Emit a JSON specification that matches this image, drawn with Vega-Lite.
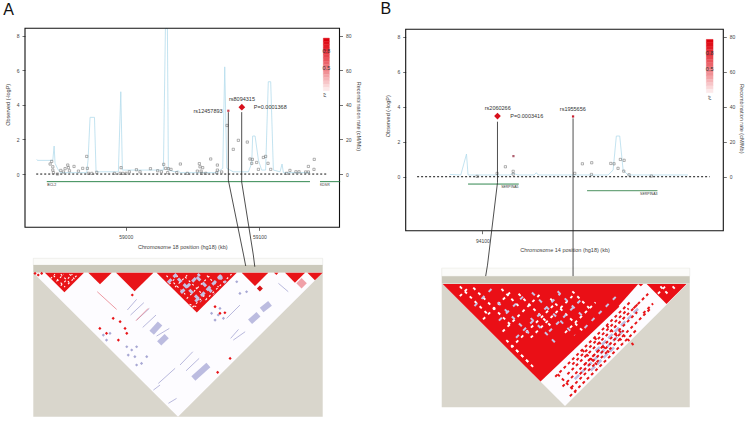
{"$schema":"https://vega.github.io/schema/vega-lite/v6.json","width":750,"height":422,"padding":0,"autosize":{"type":"none"},"background":"white",
"config":{"view":{"stroke":null},"axis":{"grid":false,"domain":false,"tickSize":3,"tickWidth":0.7,"tickColor":"#333","labelFont":"Liberation Sans","labelFontSize":5,"labelColor":"#444","labelPadding":3,"titleFont":"Liberation Sans","titleFontSize":5.5,"titleColor":"#444","titleFontWeight":"normal","titleBaseline":"middle"},"text":{"font":"Liberation Sans","fontSize":5.5,"color":"#333"}},
"datasets":{
"legendA":[{"kb":59147.9,"kb2":59152.4,"logP":7.86,"logP2":7.67,"r2":1},{"kb":59147.9,"kb2":59152.4,"logP":7.67,"logP2":7.48,"r2":0.95},{"kb":59147.9,"kb2":59152.4,"logP":7.48,"logP2":7.29,"r2":0.9},{"kb":59147.9,"kb2":59152.4,"logP":7.29,"logP2":7.1,"r2":0.85},{"kb":59147.9,"kb2":59152.4,"logP":7.1,"logP2":6.91,"r2":0.8},{"kb":59147.9,"kb2":59152.4,"logP":6.91,"logP2":6.72,"r2":0.74},{"kb":59147.9,"kb2":59152.4,"logP":6.72,"logP2":6.53,"r2":0.68},{"kb":59147.9,"kb2":59152.4,"logP":6.53,"logP2":6.34,"r2":0.62},{"kb":59147.9,"kb2":59152.4,"logP":6.34,"logP2":6.15,"r2":0.56},{"kb":59147.9,"kb2":59152.4,"logP":6.15,"logP2":5.96,"r2":0.5},{"kb":59147.9,"kb2":59152.4,"logP":5.96,"logP2":5.77,"r2":0.44},{"kb":59147.9,"kb2":59152.4,"logP":5.77,"logP2":5.58,"r2":0.37},{"kb":59147.9,"kb2":59152.4,"logP":5.58,"logP2":5.39,"r2":0.3},{"kb":59147.9,"kb2":59152.4,"logP":5.39,"logP2":5.2,"r2":0.23},{"kb":59147.9,"kb2":59152.4,"logP":5.2,"logP2":5.01,"r2":0.16},{"kb":59147.9,"kb2":59152.4,"logP":5.01,"logP2":4.82,"r2":0.09}],
"legendB":[{"kb":94272.7,"kb2":94277.9,"logP":7.86,"logP2":7.67,"r2":1},{"kb":94272.7,"kb2":94277.9,"logP":7.67,"logP2":7.48,"r2":0.95},{"kb":94272.7,"kb2":94277.9,"logP":7.48,"logP2":7.29,"r2":0.9},{"kb":94272.7,"kb2":94277.9,"logP":7.29,"logP2":7.1,"r2":0.85},{"kb":94272.7,"kb2":94277.9,"logP":7.1,"logP2":6.91,"r2":0.8},{"kb":94272.7,"kb2":94277.9,"logP":6.91,"logP2":6.72,"r2":0.74},{"kb":94272.7,"kb2":94277.9,"logP":6.72,"logP2":6.53,"r2":0.68},{"kb":94272.7,"kb2":94277.9,"logP":6.53,"logP2":6.34,"r2":0.62},{"kb":94272.7,"kb2":94277.9,"logP":6.34,"logP2":6.15,"r2":0.56},{"kb":94272.7,"kb2":94277.9,"logP":6.15,"logP2":5.96,"r2":0.5},{"kb":94272.7,"kb2":94277.9,"logP":5.96,"logP2":5.77,"r2":0.44},{"kb":94272.7,"kb2":94277.9,"logP":5.77,"logP2":5.58,"r2":0.37},{"kb":94272.7,"kb2":94277.9,"logP":5.58,"logP2":5.39,"r2":0.3},{"kb":94272.7,"kb2":94277.9,"logP":5.39,"logP2":5.2,"r2":0.23},{"kb":94272.7,"kb2":94277.9,"logP":5.2,"logP2":5.01,"r2":0.16},{"kb":94272.7,"kb2":94277.9,"logP":5.01,"logP2":4.81,"r2":0.09}]
},
"layer":[
{"encoding":{"x":{"field":"m","type":"quantitative","axis":null,"scale":{"domain":[0,100],"range":[33.3,322.7],"nice":false,"zero":false}},"y":{"field":"d","type":"quantitative","axis":null,"scale":{"domain":[0,100],"range":[272.7,416.7],"nice":false,"zero":false}}},
"layer":[
{"data":{"values":[{"m":0,"m2":100,"d":0,"d2":100}]},"mark":{"type":"rect","fill":"#d9d6cc"},"encoding":{"x2":{"field":"m2"},"y2":{"field":"d2"}}},
{"data":{"values":[{"m":0,"m2":100,"d":-10,"d2":-5.3}]},"mark":{"type":"rect","fill":"#fbfbf9","stroke":"#e2e2dc","strokeWidth":0.5},"encoding":{"x2":{"field":"m2"},"y2":{"field":"d2"}}},
{"data":{"values":[{"m":0,"m2":100,"d":-5.3,"d2":0}]},"mark":{"type":"rect","fill":"#cbc9bb"},"encoding":{"x2":{"field":"m2"},"y2":{"field":"d2"}}},
{"data":{"values":[{"m":0,"d":0,"t":0},{"m":50,"d":100,"t":0},{"m":100,"d":0,"t":0}]},"mark":{"type":"area","color":"#fdfcff"},"encoding":{"y2":{"field":"t"}}},
{"data":{"values":[{"b":"1","m":4,"d":0,"t":0},{"b":"1","m":10.75,"d":13.5,"t":0},{"b":"1","m":17.5,"d":0,"t":0},{"b":"2","m":19,"d":0,"t":0},{"b":"2","m":23.05,"d":8.1,"t":0},{"b":"2","m":27.1,"d":0,"t":0},{"b":"3","m":28.6,"d":0,"t":0},{"b":"3","m":35,"d":12.9,"t":0},{"b":"3","m":41.5,"d":0,"t":0},{"b":"4","m":42.6,"d":0,"t":0},{"b":"4","m":56.5,"d":27.7,"t":0},{"b":"4","m":70.3,"d":0,"t":0},{"b":"5","m":72,"d":0,"t":0},{"b":"5","m":76.6,"d":9.2,"t":0},{"b":"5","m":81.2,"d":0,"t":0},{"b":"6","m":83.2,"d":0,"t":0},{"b":"6","m":84,"d":1.6,"t":0},{"b":"6","m":84.7,"d":0,"t":0},{"b":"7","m":87,"d":0,"t":0},{"b":"7","m":90.4,"d":6.9,"t":0},{"b":"7","m":93.9,"d":0,"t":0},{"b":"8","m":94.7,"d":0,"t":0},{"b":"8","m":97.3,"d":5.3,"t":0},{"b":"8","m":100,"d":0,"t":0}]},"mark":{"type":"area","color":"#e81418"},"encoding":{"y2":{"field":"t"},"detail":{"field":"b"}}},
{"data":{"values":[{"s":"1","m":7,"d":2},{"s":"1","m":11,"d":10},{"s":"2","m":9.5,"d":1},{"s":"2","m":13,"d":8},{"s":"3","m":12.5,"d":1},{"s":"3","m":14.5,"d":5},{"s":"4","m":6,"d":4},{"s":"4","m":7.5,"d":1},{"s":"5","m":8,"d":6},{"s":"5","m":10.5,"d":1},{"s":"6","m":9.5,"d":9},{"s":"6","m":13.5,"d":1},{"s":"7","m":12,"d":8},{"s":"7","m":15.5,"d":1},{"s":"8","m":46,"d":2},{"s":"8","m":52.5,"d":15},{"s":"9","m":52.5,"d":3},{"s":"9","m":60,"d":18},{"s":"10","m":60,"d":2},{"s":"10","m":64,"d":10},{"s":"11","m":49,"d":10},{"s":"11","m":53.5,"d":1},{"s":"12","m":53,"d":18},{"s":"12","m":61.5,"d":1},{"s":"13","m":59.5,"d":19},{"s":"13","m":68.5,"d":1},{"s":"14","m":47,"d":8},{"s":"14","m":50.5,"d":1},{"s":"15","m":55,"d":24},{"s":"15","m":59,"d":16},{"s":"16","m":54,"d":22},{"s":"16","m":57,"d":24}]},"mark":{"type":"line","stroke":"#ffffff","strokeWidth":1.1,"strokeDash":[2,3]},"encoding":{"detail":{"field":"s"}}},
{"data":{"values":[{"s":"1","m":50,"d":4},{"s":"1","m":58,"d":20},{"s":"2","m":56.5,"d":3},{"s":"2","m":62.5,"d":15},{"s":"3","m":64,"d":2},{"s":"3","m":66.5,"d":7},{"s":"4","m":46.5,"d":7},{"s":"4","m":49.5,"d":1},{"s":"5","m":51,"d":14},{"s":"5","m":57.5,"d":1},{"s":"6","m":56,"d":20},{"s":"6","m":65.5,"d":1}]},"mark":{"type":"line","stroke":"#c4c2e4","strokeWidth":3,"strokeDash":[5,3]},"encoding":{"detail":{"field":"s"}}},
{"data":{"values":[{"s":"1","m":32.5,"d":25.9},{"s":"1","m":35.7,"d":18.5},{"s":"2","m":33.6,"d":29.4},{"s":"2","m":38.2,"d":20.8},{"s":"3","m":35.7,"d":32.9},{"s":"3","m":40.1,"d":24.8},{"s":"4","m":37.8,"d":38},{"s":"4","m":42.4,"d":29.4},{"s":"5","m":42.6,"d":44},{"s":"5","m":47,"d":38.7},{"s":"6","m":68.2,"d":45.6},{"s":"6","m":70.9,"d":39.4},{"s":"7","m":69.1,"d":46.8},{"s":"7","m":73.2,"d":41},{"s":"8","m":50.7,"d":64.1},{"s":"8","m":55.1,"d":54.9},{"s":"9","m":52.8,"d":68.1},{"s":"9","m":57.3,"d":59.5},{"s":"10","m":43.2,"d":76.9},{"s":"10","m":49,"d":66.4},{"s":"11","m":46.7,"d":90.7},{"s":"11","m":49.5,"d":87.3},{"s":"12","m":41.5,"d":81.5},{"s":"12","m":43.8,"d":78},{"s":"13","m":66.8,"d":31.7},{"s":"13","m":71.4,"d":22.5},{"s":"14","m":84.7,"d":7.4},{"s":"14","m":88.1,"d":13.2}]},"mark":{"type":"line","stroke":"#b9b9dd","strokeWidth":1},"encoding":{"detail":{"field":"s"}}},
{"data":{"values":[{"s":"1","m":40.9,"d":41.7},{"s":"1","m":43.8,"d":35.2},{"s":"2","m":55.3,"d":73.4},{"s":"2","m":60.5,"d":64.1},{"s":"3","m":74.9,"d":34},{"s":"3","m":77.8,"d":28.9},{"s":"4","m":78.9,"d":25.9},{"s":"4","m":81.8,"d":21.3},{"s":"5","m":43.5,"d":49.1},{"s":"5","m":46.1,"d":44}]},"mark":{"type":"line","stroke":"#bcbce0","strokeWidth":6},"encoding":{"detail":{"field":"s"}}},
{"data":{"values":[{"s":"1","m":22.1,"d":13.2},{"s":"1","m":28.8,"d":25.5},{"s":"2","m":35.5,"d":33.3},{"s":"2","m":39.7,"d":24.8}]},"mark":{"type":"line","stroke":"#e8808c","strokeWidth":0.8},"encoding":{"detail":{"field":"s"}}},
{"data":{"values":[{"m":32.3,"d":51.4},{"m":34,"d":53.7},{"m":35.7,"d":51.4},{"m":32.8,"d":57.2},{"m":35.1,"d":58.3},{"m":35.7,"d":64.1},{"m":37.4,"d":63},{"m":39.2,"d":58.3},{"m":61.6,"d":28.2},{"m":63.9,"d":29.4},{"m":65.7,"d":31.7},{"m":62.8,"d":32.9},{"m":64.5,"d":24.8},{"m":73.7,"d":13.2},{"m":71.4,"d":14.4},{"m":70.3,"d":6.3},{"m":24.2,"d":43.3},{"m":26.5,"d":42.1},{"m":25.3,"d":46.8}]},"mark":{"type":"point","shape":"diamond","filled":true,"color":"#a8a8d4","opacity":1,"size":10,"strokeWidth":0}},
{"data":{"values":[{"m":92.7,"d":7.4}]},"mark":{"type":"point","shape":"diamond","filled":true,"color":"#f0a0a8","opacity":1,"size":110,"strokeWidth":0}},
{"data":{"values":[{"m":78.3,"d":10.9}]},"mark":{"type":"point","shape":"diamond","filled":true,"color":"#d81418","opacity":1,"size":36,"strokeWidth":0}},
{"data":{"values":[{"m":34.2,"d":15.5},{"m":68,"d":59.5},{"m":63.7,"d":69.2},{"m":66.2,"d":27.8},{"m":27.6,"d":31.7},{"m":30,"d":34},{"m":31.7,"d":38.7},{"m":23,"d":38.7},{"m":25.3,"d":42.1},{"m":29.4,"d":46.8},{"m":32.3,"d":42.1},{"m":62.8,"d":23.6},{"m":64.5,"d":28.2},{"m":0.6,"d":0.5},{"m":1.7,"d":1.6},{"m":2.9,"d":0.5}]},"mark":{"type":"point","shape":"diamond","filled":true,"color":"#e81418","opacity":1,"size":10,"strokeWidth":0}}
]},
{"encoding":{"x":{"field":"m","type":"quantitative","axis":null,"scale":{"domain":[0,100],"range":[442.7,687.3],"nice":false,"zero":false}},"y":{"field":"d","type":"quantitative","axis":null,"scale":{"domain":[0,100],"range":[284,406],"nice":false,"zero":false}}},
"layer":[
{"data":{"values":[{"m":-0.4,"m2":101,"d":-0.5,"d2":101}]},"mark":{"type":"rect","fill":"#d9d6cc"},"encoding":{"x2":{"field":"m2"},"y2":{"field":"d2"}}},
{"data":{"values":[{"m":-0.4,"m2":101,"d":-13,"d2":-6.3}]},"mark":{"type":"rect","fill":"#fbfbf9","stroke":"#e2e2dc","strokeWidth":0.5},"encoding":{"x2":{"field":"m2"},"y2":{"field":"d2"}}},
{"data":{"values":[{"m":-0.4,"m2":101,"d":-6.3,"d2":-0.5}]},"mark":{"type":"rect","fill":"#cbc9bb"},"encoding":{"x2":{"field":"m2"},"y2":{"field":"d2"}}},
{"data":{"values":[{"m":0,"d":0,"t":0},{"m":50,"d":100,"t":0},{"m":100,"d":0,"t":0}]},"mark":{"type":"area","color":"#fdfcff"},"encoding":{"y2":{"field":"t"}}},
{"data":{"values":[{"b":"1","m":0,"d":0,"t":0},{"b":"1","m":40,"d":80,"t":0},{"b":"1","m":82,"d":0,"t":0},{"b":"2","m":83.4,"d":0,"t":0},{"b":"2","m":91.5,"d":16.3,"t":0},{"b":"2","m":99.7,"d":0,"t":0}]},"mark":{"type":"area","color":"#ea0f16"},"encoding":{"y2":{"field":"t"},"detail":{"field":"b"}}},
{"data":{"values":[{"s":"1","m":81,"d":2},{"s":"1","m":73,"d":20}]},"mark":{"type":"line","stroke":"#fdfcff","strokeWidth":7},"encoding":{}},
{"data":{"values":[{"s":"1","m":7,"d":2},{"s":"1","m":18,"d":24},{"s":"2","m":12.5,"d":3},{"s":"2","m":28.5,"d":35},{"s":"3","m":24,"d":4},{"s":"3","m":31,"d":18},{"s":"4","m":31,"d":8},{"s":"4","m":44.5,"d":35},{"s":"5","m":44,"d":12},{"s":"5","m":58,"d":40},{"s":"6","m":53,"d":6},{"s":"6","m":61,"d":22},{"s":"7","m":7,"d":10},{"s":"7","m":11,"d":2},{"s":"8","m":16.5,"d":29},{"s":"8","m":28,"d":6},{"s":"9","m":24.5,"d":39},{"s":"9","m":40,"d":8},{"s":"10","m":36,"d":44},{"s":"10","m":53,"d":10},{"s":"11","m":50,"d":40},{"s":"11","m":62.5,"d":15},{"s":"12","m":89,"d":2},{"s":"12","m":93,"d":10},{"s":"13","m":88,"d":8},{"s":"13","m":91,"d":2},{"s":"14","m":94,"d":2},{"s":"14","m":96,"d":6},{"s":"15","m":30,"d":54},{"s":"15","m":38,"d":70},{"s":"16","m":26,"d":46},{"s":"16","m":35,"d":64},{"s":"17","m":28,"d":52},{"s":"17","m":46,"d":16}]},"mark":{"type":"line","stroke":"#ffffff","strokeWidth":1.9,"strokeDash":[3,4]},"encoding":{"detail":{"field":"s"}}},
{"data":{"values":[{"s":"1","m":22.5,"d":15},{"s":"1","m":36.5,"d":43},{"s":"2","m":36,"d":28},{"s":"2","m":46,"d":48},{"s":"3","m":36.5,"d":7},{"s":"3","m":54,"d":42},{"s":"4","m":47,"d":6},{"s":"4","m":57,"d":26},{"s":"5","m":13,"d":18},{"s":"5","m":20,"d":4},{"s":"6","m":23,"d":30},{"s":"6","m":34,"d":8},{"s":"7","m":30,"d":44},{"s":"7","m":48,"d":8},{"s":"8","m":43.5,"d":39},{"s":"8","m":56.5,"d":13},{"s":"9","m":58,"d":36},{"s":"9","m":71,"d":10}]},"mark":{"type":"line","stroke":"#c6c6e6","strokeWidth":2,"strokeDash":[4,6]},"encoding":{"detail":{"field":"s"}}},
{"data":{"values":[{"s":"1","m":54,"d":78},{"s":"1","m":74,"d":38},{"s":"2","m":62.5,"d":55},{"s":"2","m":80,"d":20},{"s":"3","m":60.5,"d":71},{"s":"3","m":70.5,"d":51}]},"mark":{"type":"line","stroke":"#bcbce0","strokeWidth":2.6,"strokeDash":[6,3]},"encoding":{"detail":{"field":"s"}}},
{"data":{"values":[{"s":"1","m":46,"d":76},{"s":"1","m":77,"d":14},{"s":"2","m":53,"d":66},{"s":"2","m":76,"d":20},{"s":"3","m":51,"d":74},{"s":"3","m":80,"d":16},{"s":"4","m":58,"d":66},{"s":"4","m":79.5,"d":23},{"s":"5","m":52.5,"d":85},{"s":"5","m":85.5,"d":19},{"s":"6","m":52,"d":92},{"s":"6","m":79,"d":38},{"s":"7","m":47,"d":74},{"s":"7","m":54.5,"d":89},{"s":"8","m":57,"d":54},{"s":"8","m":64,"d":68},{"s":"9","m":67,"d":34},{"s":"9","m":74,"d":48},{"s":"10","m":62,"d":44},{"s":"10","m":68.5,"d":57},{"s":"11","m":49,"d":84},{"s":"11","m":66,"d":50},{"s":"12","m":56,"d":74},{"s":"12","m":74,"d":38},{"s":"13","m":72,"d":38},{"s":"13","m":78,"d":50},{"s":"14","m":84,"d":8},{"s":"14","m":78,"d":20},{"s":"15","m":86,"d":16},{"s":"15","m":82,"d":24}]},"mark":{"type":"line","stroke":"#e81418","strokeWidth":2,"strokeDash":[3,3]},"encoding":{"detail":{"field":"s"}}}
]},
{"data":{"values":[{"kb":58933.4,"rec":8.5},{"kb":58933.9,"rec":7.9},{"kb":58945.4,"rec":7.9},{"kb":58946.4,"rec":16.2},{"kb":58947.1,"rec":6.2},{"kb":58948.9,"rec":3.3},{"kb":58950.9,"rec":0.8},{"kb":58970.8,"rec":0.8},{"kb":58971.8,"rec":8.1},{"kb":58973.3,"rec":32.8},{"kb":58976.6,"rec":32.8},{"kb":58977.8,"rec":1.3},{"kb":58994.5,"rec":1.3},{"kb":58996.3,"rec":47.6},{"kb":58997.5,"rec":2.3},{"kb":59028.2,"rec":2.3},{"kb":59029.7,"rec":84.2},{"kb":59031.2,"rec":84.2},{"kb":59031.9,"rec":2.3},{"kb":59036.9,"rec":1.3},{"kb":59039.4,"rec":1.9},{"kb":59040.6,"rec":0.8},{"kb":59068.1,"rec":0.8},{"kb":59072.6,"rec":3.3},{"kb":59074.1,"rec":62},{"kb":59075.6,"rec":3.3},{"kb":59080.5,"rec":1.3},{"kb":59091.8,"rec":1.3},{"kb":59094.3,"rec":6.2},{"kb":59095,"rec":22},{"kb":59096.8,"rec":22},{"kb":59099.3,"rec":8.1},{"kb":59101.7,"rec":2.3},{"kb":59104.7,"rec":2.3},{"kb":59106.7,"rec":53.4},{"kb":59108.5,"rec":53.4},{"kb":59110.5,"rec":2.3},{"kb":59115.5,"rec":1.3},{"kb":59117,"rec":5.8},{"kb":59118,"rec":0.8},{"kb":59137.9,"rec":0.8}]},"mark":{"type":"line","stroke":"#b4dcec","strokeWidth":0.8},
"encoding":{"x":{"field":"kb","type":"quantitative","axis":null,"scale":{"domain":[58924.6,59160],"range":[25,339.5],"nice":false,"zero":false}},"y":{"field":"rec","type":"quantitative","scale":{"domain":[-30.8,84.3],"range":[227.3,28.3],"nice":false,"zero":false},"axis":{"orient":"right","offset":-410.5,"values":[0,20,40,60,80],"title":"Recombination rate (cM/Mb)","titleAngle":90,"titleX":18.8,"titleY":116}}}},
{"data":{"values":[{"kb":94074.8,"rec":1.3},{"kb":94083.3,"rec":1},{"kb":94087.7,"rec":13},{"kb":94088.9,"rec":1},{"kb":94121.1,"rec":1},{"kb":94123.7,"rec":1.9},{"kb":94127.5,"rec":1},{"kb":94139.8,"rec":1},{"kb":94141.6,"rec":2.3},{"kb":94142.9,"rec":1},{"kb":94196.9,"rec":1},{"kb":94200.8,"rec":3.8},{"kb":94203.3,"rec":23.3},{"kb":94205.9,"rec":23.3},{"kb":94208.5,"rec":3.8},{"kb":94212.3,"rec":1},{"kb":94230.3,"rec":1},{"kb":94258.6,"rec":1}]},"mark":{"type":"line","stroke":"#b4dcec","strokeWidth":0.8},
"encoding":{"x":{"field":"kb","type":"quantitative","axis":null,"scale":{"domain":[94040.8,94285.8],"range":[405.7,723.3],"nice":false,"zero":false}},"y":{"field":"rec","type":"quantitative","scale":{"domain":[-30.9,84.4],"range":[230.7,29.3],"nice":false,"zero":false},"axis":{"orient":"right","offset":-26.7,"values":[0,20,40,60,80],"title":"Recombination rate (cM/Mb)","titleAngle":90,"titleX":18.4,"titleY":118.3}}}},
{"encoding":{"x":{"field":"kb","type":"quantitative","scale":{"domain":[58924.6,59160],"range":[25,339.5],"nice":false,"zero":false},"axis":{"orient":"bottom","offset":-194.7,"values":[59000,59100],"format":"d","title":"Chromosome 18 position (hg18) (kb)","titleY":19,"labelPadding":4}},"y":{"field":"logP","type":"quantitative","scale":{"domain":[-3.08,8.43],"range":[227.3,28.3],"nice":false,"zero":false},"axis":{"orient":"left","offset":-25,"values":[0,2,4,6,8],"title":"Observed (-logP)","titleX":-17.7,"titleY":104.3}}},
"layer":[
{"data":{"values":[{"kb":58924.6,"kb2":59160,"logP":-3.08,"logP2":8.43}]},"mark":{"type":"rect","fillOpacity":0,"stroke":"#111","strokeWidth":1.1},"encoding":{"x2":{"field":"kb2"},"y2":{"field":"logP2"}}},
{"data":{"values":[{"kb":58933,"logP":0},{"kb":59150.4,"logP":0}]},"mark":{"type":"line","stroke":"#111","strokeWidth":1,"strokeDash":[2,2]}},
{"data":{"values":[{"g":"BCL2","kb":58940.9,"logP":-0.44},{"g":"BCL2","kb":59137.9,"logP":-0.44},{"g":"KDSR","kb":59145.4,"logP":-0.44},{"g":"KDSR","kb":59160.5,"logP":-0.44}]},"mark":{"type":"line","stroke":"#1b7a3c","strokeWidth":0.9},"encoding":{"detail":{"field":"g"}}},
{"data":{"values":[{"t":"BCL2","kb":58944.6,"logP":-0.62},{"t":"KDSR","kb":59149,"logP":-0.62}]},"mark":{"type":"text","fontSize":3.5},"encoding":{"text":{"field":"t"}}},
{"data":{"values":[{"kb":58944.6,"logP":0.73},{"kb":58943.4,"logP":0.58},{"kb":58945.4,"logP":0.42},{"kb":58945.4,"logP":0.23},{"kb":58945.9,"logP":0.08},{"kb":58948.9,"logP":0},{"kb":58951.4,"logP":0.21},{"kb":58953.4,"logP":0.12},{"kb":58954.6,"logP":0.31},{"kb":58956.6,"logP":0.52},{"kb":58957.1,"logP":0.37},{"kb":58957.9,"logP":0.19},{"kb":58961.3,"logP":0.44},{"kb":58964.6,"logP":0.17},{"kb":58967.8,"logP":0.33},{"kb":58970.8,"logP":1.02},{"kb":58971.3,"logP":0.33},{"kb":58972.1,"logP":0.04},{"kb":58974.6,"logP":0.04},{"kb":58978.3,"logP":0.1},{"kb":58991.5,"logP":0.04},{"kb":58996.5,"logP":0.37},{"kb":58995.8,"logP":0.04},{"kb":58997.8,"logP":0.04},{"kb":59000.2,"logP":0.04},{"kb":59002.7,"logP":0.13},{"kb":59008,"logP":0.25},{"kb":59010.7,"logP":0.13},{"kb":59018.5,"logP":0.31},{"kb":59023.9,"logP":0.19},{"kb":59026.7,"logP":0.13},{"kb":59028.4,"logP":0.56},{"kb":59029.9,"logP":0.33},{"kb":59031.9,"logP":0.31},{"kb":59033.9,"logP":0.27},{"kb":59031.4,"logP":0.08},{"kb":59040.9,"logP":0.58},{"kb":59038.2,"logP":0.08},{"kb":59046.1,"logP":0.04},{"kb":59055.1,"logP":0.6},{"kb":59055.6,"logP":0.42},{"kb":59057.6,"logP":0.37},{"kb":59053.6,"logP":0.17},{"kb":59056.4,"logP":0.17},{"kb":59056.9,"logP":0.04},{"kb":59059.9,"logP":0.04},{"kb":59063.6,"logP":0.87},{"kb":59068.6,"logP":0.52},{"kb":59068.6,"logP":0.23},{"kb":59068.1,"logP":0.08},{"kb":59071.8,"logP":0.12},{"kb":59075.8,"logP":2.81},{"kb":59080.5,"logP":1.43},{"kb":59084.3,"logP":1.95},{"kb":59091,"logP":1.85},{"kb":59093,"logP":0.87},{"kb":59094.8,"logP":0.85},{"kb":59094.3,"logP":0.62},{"kb":59098,"logP":0.67},{"kb":59099.3,"logP":0.27},{"kb":59103,"logP":0.96},{"kb":59104.7,"logP":1.02},{"kb":59106.5,"logP":0.62},{"kb":59108.5,"logP":0.27},{"kb":59120.4,"logP":0.04},{"kb":59122.9,"logP":0.21},{"kb":59127.4,"logP":0.13},{"kb":59129.7,"logP":0.13},{"kb":59136.7,"logP":0.44},{"kb":59136.7,"logP":0.12},{"kb":59134.7,"logP":0.12},{"kb":59140.9,"logP":0.27},{"kb":59141.1,"logP":0.85}]},"mark":{"type":"point","shape":"square","size":5,"color":"#666","strokeWidth":0.5,"opacity":1}},
{"data":{"values":[{"kb":59076.8,"logP":3.66}]},"mark":{"type":"point","shape":"square","size":5,"filled":true,"color":"#c84050","opacity":1,"strokeWidth":0}},
{"data":{"values":[{"c":"a","o":1,"kb":59076.8,"logP":3.58},{"c":"a","o":2,"kb":59076.8,"logP":-0.35},{"c":"a","o":3,"kb":59088.2,"logP":-4.68},{"c":"a","o":4,"kb":59089.8,"logP":-5.32},{"c":"b","o":1,"kb":59086.8,"logP":3.58},{"c":"b","o":2,"kb":59086.8,"logP":-0.46},{"c":"b","o":3,"kb":59095.5,"logP":-4.68},{"c":"b","o":4,"kb":59096.6,"logP":-5.36}]},"mark":{"type":"line","stroke":"#222","strokeWidth":0.8},"encoding":{"detail":{"field":"c"},"order":{"field":"o"}}},
{"data":{"values":[{"kb":59086.9,"logP":3.87}]},"mark":{"type":"point","shape":"diamond","filled":true,"size":45,"color":"#d8101c","opacity":1,"strokeWidth":0}},
{"data":{"values":[{"t":"rs8094315","kb":59087,"logP":4.32},{"t":"rs12457893","kb":59061.6,"logP":3.66},{"t":"P=0.0001368","kb":59108.2,"logP":3.89}]},"mark":{"type":"text"},"encoding":{"text":{"field":"t"}}},
{"data":{"name":"legendA"},"mark":{"type":"rect","strokeWidth":0.4},"encoding":{"x2":{"field":"kb2"},"y2":{"field":"logP2"},"color":{"field":"r2","type":"quantitative","legend":null,"scale":{"domain":[0,0.95],"range":["#ffffff","#e0101a"],"interpolate":"rgb"}},"stroke":{"field":"r2","type":"quantitative","legend":null,"scale":{"domain":[0,0.95],"range":["#ffffff","#e0101a"],"interpolate":"rgb"}}}},
{"data":{"values":[{"t":"0.8","kb":59150.2,"logP":7.11},{"t":"0.5","kb":59150.2,"logP":6.13}]},"mark":{"type":"text"},"encoding":{"text":{"field":"t"}}},
{"data":{"values":[{"t":"r²","kb":59149,"logP":4.57}]},"mark":{"type":"text","angle":290},"encoding":{"text":{"field":"t"}}},
{"data":{"values":[{"t":"A","kb":58912.3,"logP":9.51}]},"mark":{"type":"text","fontSize":16,"color":"#111"},"encoding":{"text":{"field":"t"}}}
]},
{"encoding":{"x":{"field":"kb","type":"quantitative","scale":{"domain":[94040.8,94285.8],"range":[405.7,723.3],"nice":false,"zero":false},"axis":{"orient":"bottom","offset":-191.3,"values":[94100],"format":"d","title":"Chromosome 14 position (hg18) (kb)","titleY":19,"labelPadding":5}},"y":{"field":"logP","type":"quantitative","scale":{"domain":[-3.09,8.44],"range":[230.7,29.3],"nice":false,"zero":false},"axis":{"orient":"left","offset":-405.7,"values":[0,2,4,6,8],"title":"Observed (-logP)","titleX":-18,"titleY":115.7}}},
"layer":[
{"data":{"values":[{"kb":94040.8,"kb2":94285.8,"logP":-3.09,"logP2":8.44}]},"mark":{"type":"rect","fillOpacity":0,"stroke":"#111","strokeWidth":1.1},"encoding":{"x2":{"field":"kb2"},"y2":{"field":"logP2"}}},
{"data":{"values":[{"kb":94049.6,"logP":0},{"kb":94275.3,"logP":0}]},"mark":{"type":"line","stroke":"#111","strokeWidth":1,"strokeDash":[2,2]}},
{"data":{"values":[{"kb":94088.9,"logP":-0.42},{"kb":94128,"logP":-0.42}]},"mark":{"type":"line","stroke":"#1b7a3c","strokeWidth":0.9}},
{"data":{"values":[{"kb":94180.7,"logP":-0.8},{"kb":94235,"logP":-0.8}]},"mark":{"type":"line","stroke":"#6fa77f","strokeWidth":1.2}},
{"data":{"values":[{"t":"SERPINA5","kb":94121.1,"logP":-0.61},{"t":"SERPINA3","kb":94228.3,"logP":-0.99}]},"mark":{"type":"text","fontSize":3.5},"encoding":{"text":{"field":"t"}}},
{"data":{"values":[{"kb":94095.9,"logP":0.02},{"kb":94111.3,"logP":0.19},{"kb":94117.7,"logP":0.57},{"kb":94123.7,"logP":0.31},{"kb":94123.7,"logP":0.15},{"kb":94171.2,"logP":0.19},{"kb":94177.1,"logP":0.74},{"kb":94184.3,"logP":0.8},{"kb":94184.1,"logP":0.13},{"kb":94199,"logP":0.76},{"kb":94201.5,"logP":0.74},{"kb":94206.4,"logP":0.99},{"kb":94209.3,"logP":0.94},{"kb":94204.6,"logP":0.48},{"kb":94209,"logP":0.32},{"kb":94213.1,"logP":0.11},{"kb":94230.3,"logP":0.04}]},"mark":{"type":"point","shape":"square","size":5,"color":"#666","strokeWidth":0.5,"opacity":1}},
{"data":{"values":[{"kb":94123.9,"logP":1.18}]},"mark":{"type":"point","shape":"square","size":5,"filled":true,"color":"#b06070","opacity":1,"strokeWidth":0}},
{"data":{"values":[{"kb":94169.9,"logP":3.45}]},"mark":{"type":"point","shape":"square","size":5,"filled":true,"color":"#c82030","opacity":1,"strokeWidth":0}},
{"data":{"values":[{"c":"a","o":1,"kb":94111.6,"logP":3.15},{"c":"a","o":2,"kb":94111.6,"logP":-0.34},{"c":"a","o":3,"kb":94103.9,"logP":-5.06},{"c":"a","o":4,"kb":94102.5,"logP":-5.69},{"c":"b","o":1,"kb":94169.9,"logP":3.34},{"c":"b","o":2,"kb":94169.9,"logP":-5.06},{"c":"b","o":3,"kb":94169.9,"logP":-5.69}]},"mark":{"type":"line","stroke":"#222","strokeWidth":0.8},"encoding":{"detail":{"field":"c"},"order":{"field":"o"}}},
{"data":{"values":[{"kb":94111.6,"logP":3.47}]},"mark":{"type":"point","shape":"diamond","filled":true,"size":45,"color":"#d8101c","opacity":1,"strokeWidth":0}},
{"data":{"values":[{"t":"rs2060266","kb":94111.8,"logP":3.91},{"t":"rs1955656","kb":94169.7,"logP":3.85},{"t":"P=0.0003416","kb":94134.2,"logP":3.47}]},"mark":{"type":"text"},"encoding":{"text":{"field":"t"}}},
{"data":{"name":"legendB"},"mark":{"type":"rect","strokeWidth":0.4},"encoding":{"x2":{"field":"kb2"},"y2":{"field":"logP2"},"color":{"field":"r2","type":"quantitative","legend":null,"scale":{"domain":[0,0.95],"range":["#ffffff","#e0101a"],"interpolate":"rgb"}},"stroke":{"field":"r2","type":"quantitative","legend":null,"scale":{"domain":[0,0.95],"range":["#ffffff","#e0101a"],"interpolate":"rgb"}}}},
{"data":{"values":[{"t":"0.8","kb":94275.3,"logP":7.1},{"t":"0.5","kb":94275.3,"logP":6.15}]},"mark":{"type":"text"},"encoding":{"text":{"field":"t"}}},
{"data":{"values":[{"t":"r²","kb":94275.3,"logP":4.52}]},"mark":{"type":"text","angle":290},"encoding":{"text":{"field":"t"}}},
{"data":{"values":[{"t":"B","kb":94025.4,"logP":9.58}]},"mark":{"type":"text","fontSize":16,"color":"#111"},"encoding":{"text":{"field":"t"}}}
]}
],
"resolve":{"scale":{"x":"independent","y":"independent","color":"shared","stroke":"shared"}}}
